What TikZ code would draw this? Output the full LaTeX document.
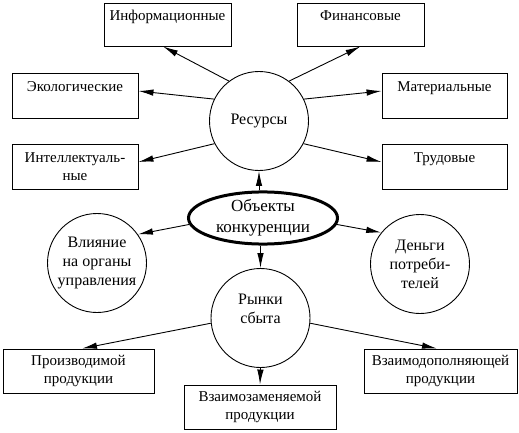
\documentclass[tikz,border=0pt]{standalone}
\usepackage{fontspec}
\setmainfont{Liberation Serif}
\usetikzlibrary{arrows.meta,shapes.geometric}
\begin{document}
\begin{tikzpicture}[x=1pt,y=-1pt,
  box/.style={draw,line width=0.9pt,rectangle,inner sep=0pt,align=center,
    font=\fontsize{15}{18}\selectfont},
  circ/.style={draw,line width=0.9pt,circle,minimum size=99pt,inner sep=0pt,
    align=center,font=\fontsize{16}{19}\selectfont},
  ell/.style={draw,line width=3pt,ellipse,minimum width=149pt,minimum height=50pt,
    inner sep=0pt,align=center,font=\fontsize{17}{21}\selectfont},
  arr/.style={line width=0.9pt,-{Latex[length=15pt,width=6.5pt]}}]
\fill[white] (0,0) rectangle (519,433);
\useasboundingbox (0,0) rectangle (519,433);

% boxes
\node[box,minimum width=127pt,minimum height=43pt] (info) at (167.5,24.5) {Информационные\\\phantom{И}};
\node[box,minimum width=127pt,minimum height=43pt] (fin) at (360.5,24.5) {Финансовые\\\phantom{И}};
\node[box,minimum width=126pt,minimum height=45pt] (eco) at (75,95.5) {Экологические\\\phantom{И}};
\node[box,minimum width=125pt,minimum height=45pt] (mat) at (444.5,95.5) {Материальные\\\phantom{И}};
\node[box,minimum width=126pt,minimum height=45pt] (int) at (75,166.5) {Интеллектуаль-\\ные};
\node[box,minimum width=125pt,minimum height=45pt] (trud) at (444.5,166.5) {Трудовые\\\phantom{И}};
\node[box,minimum width=151pt,minimum height=44pt] (proizv) at (78.5,371) {Производимой\\продукции};
\node[box,minimum width=152pt,minimum height=44pt] (zamen) at (260,407) {Взаимозаменяемой\\продукции};
\node[box,minimum width=153pt,minimum height=44pt] (dopol) at (440.5,371) {Взаимодополняющей\\продукции};

% circles
\node[circ] (res) at (259,121) {Ресурсы};
\node[circ] (vl) at (97,263) {Влияние\\на органы\\управления};
\node[circ] (den) at (420,264) {Деньги\\потреби-\\телей};
\node[circ] (ryn) at (260.5,318) {Рынки\\сбыта\\\phantom{И}};
\node[ell] (obj) at (263,218) {\rule{0pt}{8pt}Объекты\\конкуренции};

% arrows from resources
\draw[arr] (res.127) -- ([xshift=-4.5pt]info.south);
\draw[arr] (res.53) -- (fin.south);
\draw[arr] (res.154) -- ([yshift=4.5pt]eco.east);
\draw[arr] (res.26) -- ([yshift=4.5pt]mat.west);
\draw[arr] (res.207) -- ([yshift=4.5pt]int.east);
\draw[arr] (res.-27) -- ([yshift=4.5pt]trud.west);

% arrows from objects
\draw[arr] (res.south |- obj.north) -- (res.south);
\draw[arr] (obj.185) -- (vl.35);
\draw[arr] (obj.-5) -- (den.141);
\draw[arr] (ryn.north |- obj.south) -- (ryn.north);

% arrows from markets
\draw[arr] (ryn.186) -- ([xshift=3.5pt]proizv.north);
\draw[arr] (ryn.south) -- (zamen.north);
\draw[arr] (ryn.-6) -- ([xshift=-3.5pt]dopol.north);
\end{tikzpicture}
\end{document}
